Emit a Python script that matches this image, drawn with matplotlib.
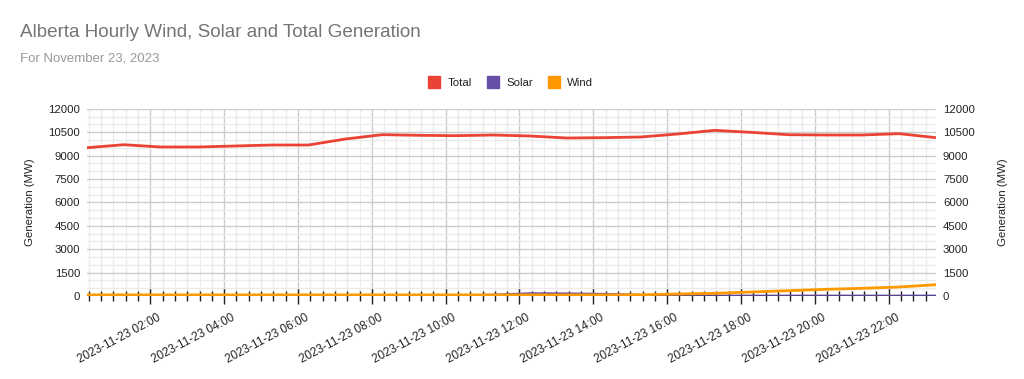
import matplotlib
matplotlib.use("Agg")
import matplotlib.pyplot as plt
import matplotlib.dates as mdates
import matplotlib.transforms as mtransforms
from matplotlib.lines import Line2D
import pandas as pd

plt.rcParams['font.family'] = ['Liberation Sans', 'DejaVu Sans']

# ---- data ----
times = pd.date_range("2023-11-23 00:17", periods=24, freq="h")
total = [9506, 9699, 9551, 9551, 9615, 9679, 9679, 10064, 10340, 10300, 10276, 10320,
         10256, 10128, 10150, 10192, 10384, 10620, 10490, 10340, 10320, 10320, 10405, 10150]
solar = [0, 0, 0, 0, 0, 0, 0, 0, 0, 0, 10, 60,
         150, 140, 110, 50, 0, 0, 0, 0, 0, 0, 0, 0]
wind = [70, 70, 70, 70, 70, 70, 70, 70, 70, 70, 70, 70,
        70, 70, 70, 80, 128, 171, 256, 341, 427, 491, 577, 726]
series_names = ["Total", "Solar", "Wind"]
colors = ["#ea4335", "#674ea7", "#ff9900"]
yticks = [0, 1500, 3000, 4500, 6000, 7500, 9000, 10500, 12000]

fig = plt.figure(figsize=(10.24, 3.79), dpi=100)
ax = fig.add_axes([87/1024, 1-296/379, (936-87)/1024, (296-108.8)/379])

ax.plot(times, total, color=colors[0], lw=2, zorder=4, solid_joinstyle='round')
ax.plot(times, solar, color=colors[1], lw=2, zorder=3, solid_joinstyle='round')
ax.plot(times, wind, color=colors[2], lw=2, zorder=5, solid_joinstyle='round')
ax.axhline(0, color="#222222", lw=1, zorder=3.5)

ax.set_xlim(times[0], times[-1])
ax.set_ylim(0, 12000)
ax.set_yticks(yticks)
ax.set_yticks(range(0, 12001, 500), minor=True)

ax.xaxis.set_major_locator(mdates.HourLocator(byhour=range(0, 24, 2)))
ax.xaxis.set_minor_locator(mdates.MinuteLocator(byminute=[0, 20, 40]))
ax.xaxis.set_major_formatter(mdates.DateFormatter("%Y-%m-%d %H:%M"))

ax.grid(which='major', color="#cccccc", lw=1, zorder=1)
ax.grid(which='minor', color="#ebebeb", lw=1, zorder=0.5)
ax.set_axisbelow(True)
for s in ax.spines.values():
    s.set_visible(False)

ax.tick_params(axis='x', which='major', direction='inout', length=12, width=1,
               color="#222222", labelsize=8.5, labelcolor="#222222", pad=2)
ax.tick_params(axis='x', which='minor', direction='inout', length=7, width=1,
               color="#222222")
ax.tick_params(axis='y', which='both', length=0, labelsize=8.2, labelcolor="#222222",
               pad=5, labelleft=True, labelright=True)
offset = mtransforms.ScaledTranslation(7/100, -5/100, fig.dpi_scale_trans)
for lab in ax.get_xticklabels():
    lab.set_rotation(28)
    lab.set_ha('right')
    lab.set_rotation_mode('anchor')
    lab.set_transform(lab.get_transform() + offset)

fig.text(30/1024, 1-202/379, "Generation (MW)", rotation=90, ha='center', va='center',
         fontsize=8.2, color="#222222")
fig.text(1003/1024, 1-202/379, "Generation (MW)", rotation=90, ha='center', va='center',
         fontsize=8.2, color="#222222")

fig.text(20/1024, 1-37/379, "Alberta Hourly Wind, Solar and Total Generation",
         fontsize=13.55, color="#757575", ha='left', va='baseline')
fig.text(20/1024, 1-61.5/379, "For November 23, 2023",
         fontsize=9.5, color="#999999", ha='left', va='baseline')

handles = [Line2D([], [], marker='s', ls='none', markersize=8, color=c) for c in colors]
fig.legend(handles, series_names, loc='center', bbox_to_anchor=(511/1024, 1-83/379),
           ncol=3, frameon=False, fontsize=8.2, handletextpad=0.7, columnspacing=1.3,
           handlelength=1.0, labelcolor="#222222")

fig.savefig("out.png", dpi=100)
